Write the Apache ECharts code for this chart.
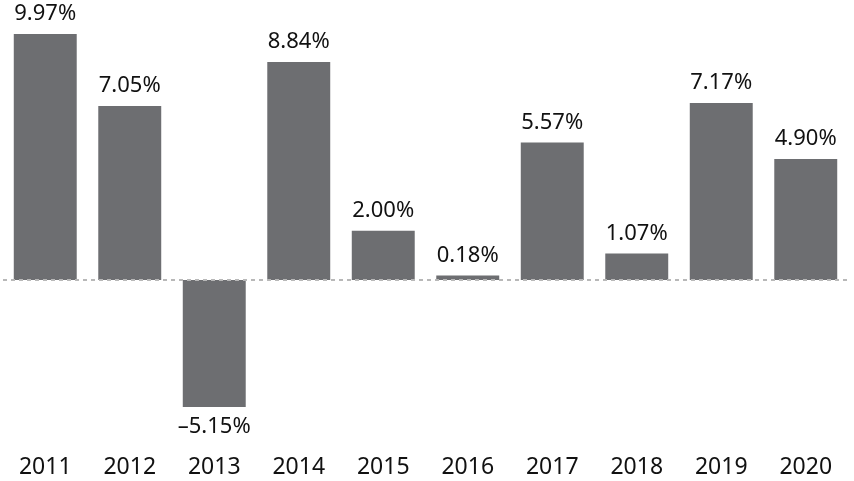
<!DOCTYPE html>
<html><head><meta charset="utf-8">
<script src="https://cdn.jsdelivr.net/npm/echarts@6/dist/echarts.min.js"></script>
<style>html,body{margin:0;padding:0;background:#fff}#c{width:854px;height:481px}</style>
</head><body><div id="c"></div>
<script>
var years = ['2011','2012','2013','2014','2015','2016','2017','2018','2019','2020'];
var returns = [9.97, 7.05, -5.15, 8.84, 2.00, 0.18, 5.57, 1.07, 7.17, 4.90];

function fmt(v){ return (v < 0 ? '\u2013' : '') + Math.abs(v).toFixed(2) + '%'; }

var chart = echarts.init(document.getElementById('c'));
chart.setOption({
  animation: false,
  grid: {left: 3, right: 6, top: 8.6, bottom: 53, containLabel: false},
  xAxis: {
    type: 'category', data: years, position: 'bottom',
    axisLine: {show: false, onZero: false}, axisTick: {show: false},
    axisLabel: {margin: 28, fontSize: 23, color: '#111', fontFamily: 'Noto Sans'}
  },
  yAxis: {
    type: 'value', min: -6, max: 11, show: false, splitLine: {show: false}
  },
  series: [{
    type: 'bar', barWidth: '74.5%',
    itemStyle: {color: '#6d6e71'},
    data: returns.map(function(v){
      return {value: v, label: {position: v < 0 ? 'bottom' : 'top'}};
    }),
    label: {
      show: true, distance: 9, fontSize: 22, color: '#111', fontFamily: 'Noto Sans',
      formatter: function(p){ return fmt(p.value); }
    },
    markLine: {
      silent: true, symbol: 'none', label: {show: false},
      lineStyle: {type: [4, 4], color: '#b8b8b8', width: 2},
      data: [{yAxis: 0}]
    }
  }]
});
</script></body></html>
